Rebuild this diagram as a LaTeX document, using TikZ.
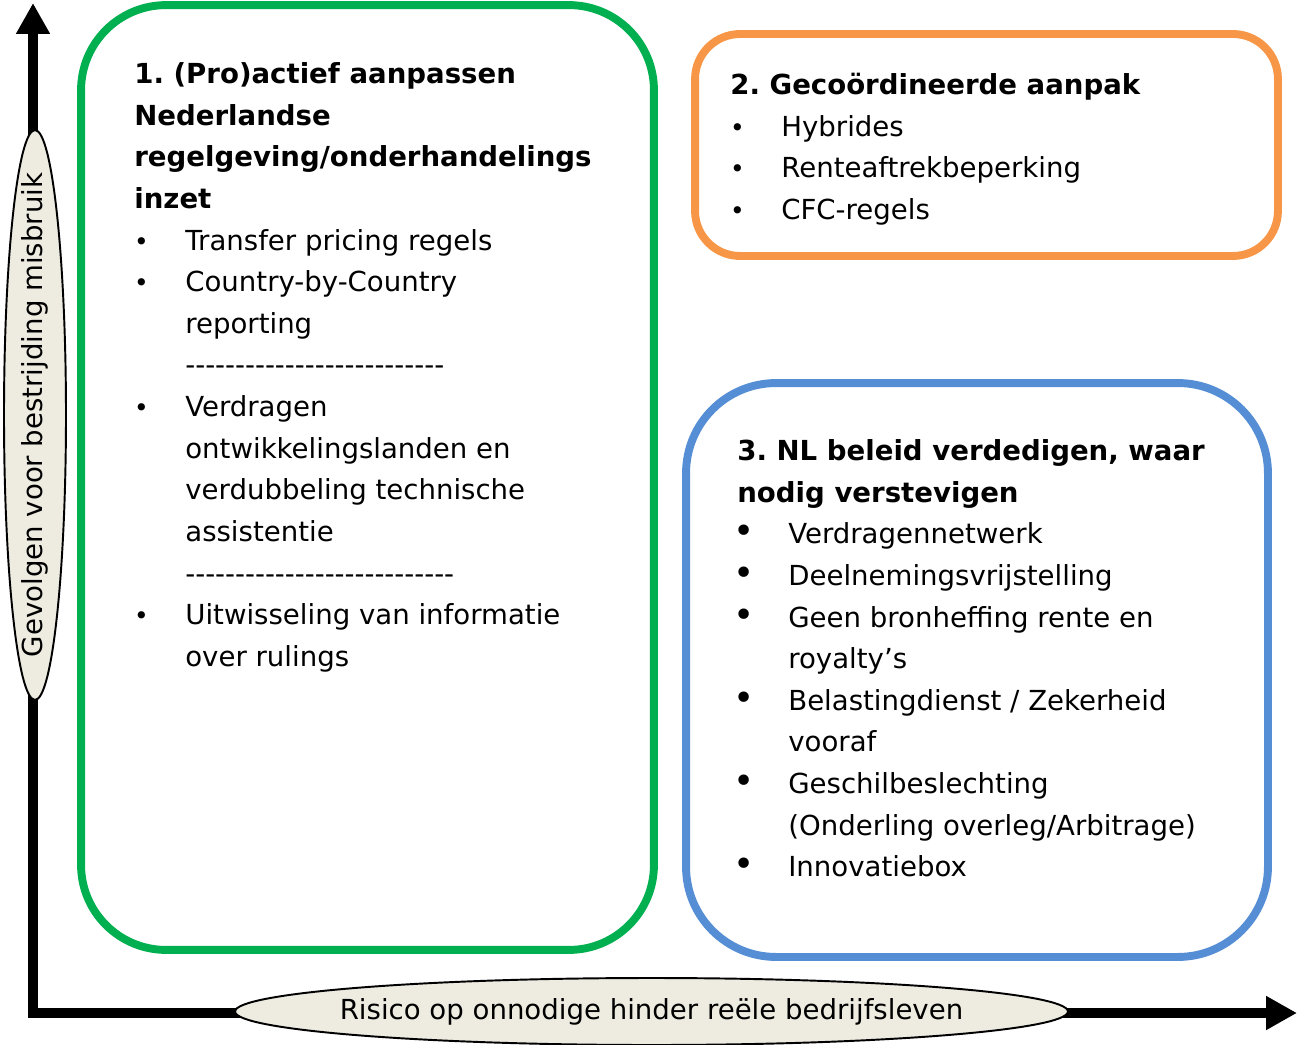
\documentclass[tikz,border=0pt]{standalone}
\usepackage{fontspec}
\setmainfont{DejaVu Sans}
\usepackage{graphicx}
\usetikzlibrary{arrows.meta,shapes.geometric}
\frenchspacing

\definecolor{kadergroen}{HTML}{00B050}
\definecolor{kaderoranje}{HTML}{F79646}
\definecolor{kaderblauw}{HTML}{558ED5}
\definecolor{asvulling}{HTML}{EEECE1}

\newcommand\opsom{\makebox[1.02cm][l]{\makebox[0.28cm]{\scalebox{0.9}{\textbullet}}}}
\newcommand\opsomgroot{\makebox[1.02cm][l]{\makebox[0.28cm]{\scalebox{1.3}{\textbullet}}}}
\newcommand\inspr{\hspace*{1.02cm}}
\newcommand\streepjes[1]{\foreach\k in {1,...,#1}{\hbox{-}}}

\tikzset{
  pijlas/.style={{Triangle[length=0.62cm,width=0.64cm]}-{Triangle[length=0.62cm,width=0.64cm]}, line width=0.2cm, line join=miter},
  asvorm/.style={ellipse, draw, line width=1.1pt, fill=asvulling, inner sep=0pt},
  kader/.style={rectangle, draw, line width=4.5pt, inner sep=0pt},
  kadertekst/.style={align=left, inner sep=0pt, anchor=north west, font={\fontsize{15.7}{23.7}\selectfont}},
}

\begin{document}
\begin{tikzpicture}[x=0.02cm, y=-0.02cm]
\useasboundingbox (0,0) rectangle (1299,1045);

% assen
\coordinate (oorsprong) at (33,1013);
\coordinate (ytop) at (33,3);
\coordinate (xeind) at (1297,1013);
\draw[pijlas] (ytop) -- (oorsprong) -- (xeind);

\node[asvorm, minimum width=1.24cm, minimum height=11.4cm] (gevolgen) at (35,415) {};
\node[rotate=90, font={\fontsize{15.7}{18}\selectfont}] (gevolgentekst) at (gevolgen) {Gevolgen voor bestrijding misbruik};
\node[asvorm, minimum width=16.66cm, minimum height=1.34cm] (risico) at (651.5,1011.5) {};
\node[font={\fontsize{15.7}{18}\selectfont}] (risicotekst) at (risico) {Risico op onnodige hinder reële bedrijfsleven};

% kaders
\node[kader, draw=kadergroen, rounded corners=1.7cm, minimum width=11.46cm, minimum height=18.9cm] (proactief) at (367.5,477.5) {};
\node[kader, draw=kaderoranje, rounded corners=0.9cm, minimum width=11.66cm, minimum height=4.44cm] (gecoord) at (986.5,145) {};
\node[kader, draw=kaderblauw, rounded corners=1.8cm, minimum width=11.64cm, minimum height=11.48cm] (verdedigen) at (977,670) {};

\node[kadertekst] (tekst1) at (134,54) {\strut\textbf{1. (Pro)actief aanpassen}\\
\textbf{Nederlandse}\\
\textbf{regelgeving/onderhandelings}\\
\textbf{inzet}\\
\opsom Transfer pricing regels\\
\opsom Country-by-Country\\
\inspr reporting\\
\inspr\streepjes{26}\\
\opsom Verdragen\\
\inspr ontwikkelingslanden en\\
\inspr verdubbeling technische\\
\inspr assistentie\\
\inspr\streepjes{27}\\
\opsom Uitwisseling van informatie\\
\inspr over rulings};

\node[kadertekst] (tekst2) at (730,65) {\strut\textbf{2. Gecoördineerde aanpak}\\
\opsom Hybrides\\
\opsom Renteaftrekbeperking\\
\opsom CFC-regels};

\node[kadertekst] (tekst3) at (737,431) {\strut\textbf{3. NL beleid verdedigen, waar}\\
\textbf{nodig verstevigen}\\
\opsomgroot Verdragennetwerk\\
\opsomgroot Deelnemingsvrijstelling\\
\opsomgroot Geen bronheffing rente en\\
\inspr royalty’s\\
\opsomgroot Belastingdienst / Zekerheid\\
\inspr vooraf\\
\opsomgroot Geschilbeslechting\\
\inspr (Onderling overleg/Arbitrage)\\
\opsomgroot Innovatiebox};

\end{tikzpicture}
\end{document}
